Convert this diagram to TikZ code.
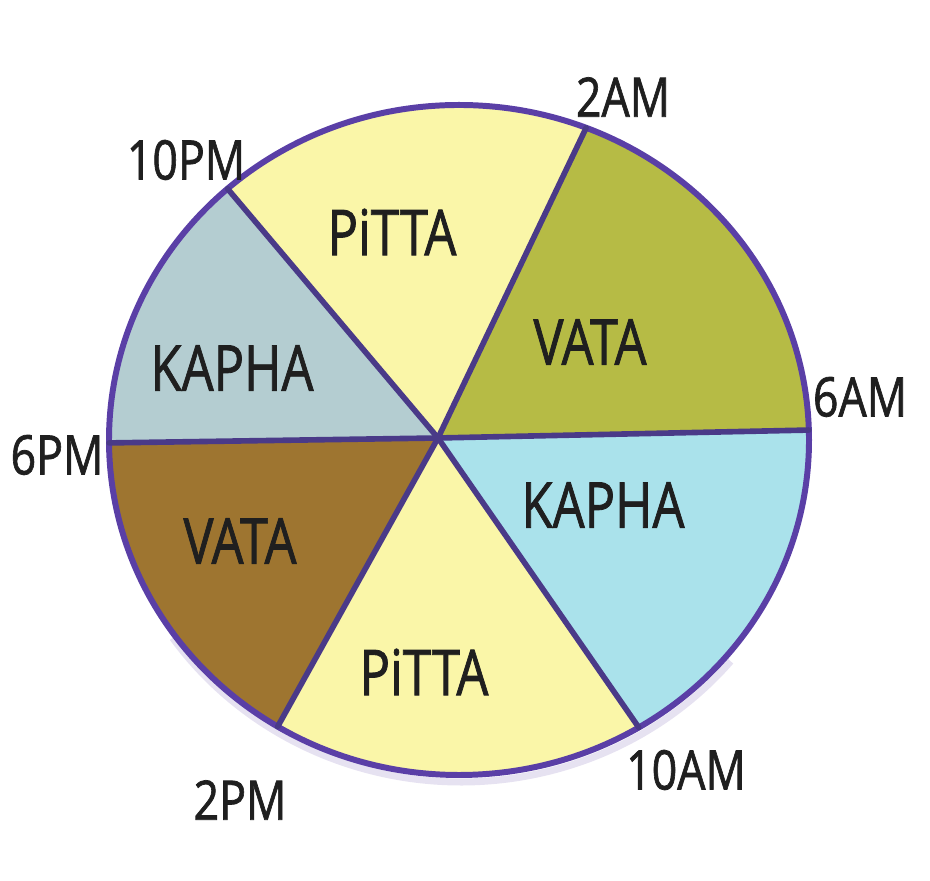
\documentclass[tikz,border=0pt]{standalone}
\usepackage{fontspec}
\setmainfont{Open Sans}
\newfontfamily\markerfont[FakeBold=1.4]{Open Sans}
\usetikzlibrary{calc}
\definecolor{pitta-color}{HTML}{FAF6A8}
\definecolor{vata-am-color}{HTML}{B6BB45}
\definecolor{vata-pm-color}{HTML}{9E7530}
\definecolor{kapha-pm-color}{HTML}{B4CDD1}
\definecolor{kapha-am-color}{HTML}{AAE2EB}
\definecolor{rim-color}{HTML}{5A3FA6}
\definecolor{spoke-color}{HTML}{4A3A88}
\colorlet{ink-color}{black!88}
\tikzset{
    dosha/.style = {font=\markerfont\fontsize{18}{20}\selectfont, text=ink-color, xscale=0.8},
    hour/.style = {font=\markerfont\fontsize{15.5}{17}\selectfont, text=ink-color, xscale=0.82},
    spoke/.style = {draw=spoke-color, line width=1.6pt, line cap=round},
    rim line/.style = {draw=rim-color, line width=1.7pt},
}
% one coloured slice of the day wheel
\newcommand{\doshaslice}[3]{%
    \fill[#1] (hub) -- ([shift={(rim)}]#2:3.5 and 3.35)
        arc[start angle=#2, end angle=#3, x radius=3.5, y radius=3.35] -- cycle;}

\begin{document}
\begin{tikzpicture}
\useasboundingbox (0,0) rectangle (9.30,8.81);

\coordinate (hub) at (4.38,4.43);
\coordinate (rim) at (4.59,4.41);

\doshaslice{vata-am-color}{1.7}{68.7}
\doshaslice{pitta-color}{68.7}{131.4}
\doshaslice{kapha-pm-color}{131.4}{180.5}
\doshaslice{vata-pm-color}{180.5}{238.8}
\doshaslice{pitta-color}{238.8}{300.9}
\doshaslice{kapha-am-color}{300.9}{361.7}

% faint pencil ring under the wheel
\draw[rim-color!30, line width=2pt, opacity=0.5]
    ([shift={(4.61,4.37)}]215:3.52 and 3.38)
    arc[start angle=215, end angle=320, x radius=3.52, y radius=3.38];
\draw[rim line] (rim) ellipse [x radius=3.5, y radius=3.35];

\foreach \name/\ang in {am2/68.7, am6/1.7, am10/-59.1, pm2/238.8, pm6/180.5, pm10/131.4}
    \coordinate (\name) at ([shift={(rim)}]\ang:3.5 and 3.35);
\foreach \name in {am2, am6, am10, pm2, pm6, pm10}
    \draw[spoke] (hub) -- (\name);

\node[dosha] (pitta-night) at (3.92,6.49) {PiTTA};
\node[dosha] (vata-night)  at (5.90,5.39) {VATA};
\node[dosha] (kapha-day)   at (6.03,3.76) {KAPHA};
\node[dosha] (pitta-day)   at (4.24,2.09) {PiTTA};
\node[dosha] (vata-day)    at (2.40,3.40) {VATA};
\node[dosha] (kapha-eve)   at (2.32,5.13) {KAPHA};

\node[hour] (l-am2)  at (6.23,7.84) {2AM};
\node[hour] (l-am6)  at (8.60,4.84) {6AM};
\node[hour] (l-am10) at (6.86,1.11) {10AM};
\node[hour] (l-pm2)  at (2.40,0.81) {2PM};
\node[hour] (l-pm6)  at (0.57,4.26) {6PM};
\node[hour] (l-pm10) at (1.86,7.21) {10PM};

\end{tikzpicture}
\end{document}
